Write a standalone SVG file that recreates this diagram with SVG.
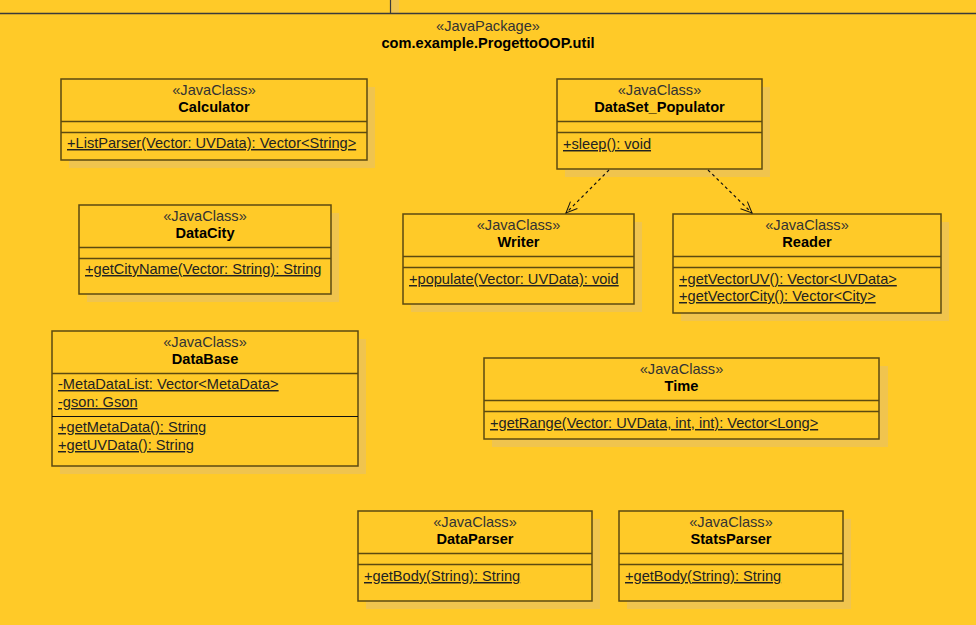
<svg xmlns="http://www.w3.org/2000/svg" width="976" height="625" viewBox="0 0 976 625">
<style>
text{font-family:"Liberation Sans",Arial,sans-serif;font-size:14.6px;fill:#1a1a1a}
.st{text-anchor:middle;fill:#333}
.nm{text-anchor:middle;font-weight:bold;fill:#000}
.m{text-decoration:underline;fill:#222}
.box{fill:#FFCA28;stroke:#5c4a10;stroke-width:1.5}
.sh{fill:#F0C44E}
.sep{stroke:#5c4a10;stroke-width:1.5}
.sep2{stroke:#111;stroke-width:1.2}
.dep{fill:none;stroke:#111;stroke-width:1.2;stroke-dasharray:3 3}
</style>
<defs>
<marker id="open" viewBox="0 0 20 20" refX="18" refY="10" markerWidth="14" markerHeight="14" markerUnits="userSpaceOnUse" orient="auto">
<path d="M2,3 L18,10 L2,17" fill="none" stroke="#111" stroke-width="1.4"/>
</marker>
</defs>
<rect width="976" height="625" fill="#FFCA28"/>
<g id="frame">
<rect x="391" y="0" width="8" height="13" class="sh"/>
<line x1="0" y1="13.5" x2="976" y2="13.5" stroke="#3a3a3a" stroke-width="1.5"/>
<line x1="390.5" y1="0" x2="390.5" y2="13" stroke="#3a3a3a" stroke-width="1.2"/>
<text x="488" y="31" class="st">«JavaPackage»</text>
<text x="488" y="48" class="nm">com.example.ProgettoOOP.util</text>
</g>

<g id="Calculator">
<rect x="69" y="87" width="306" height="81" class="sh"/>
<rect x="61" y="79" width="306" height="81" class="box"/>
<line x1="61" y1="121.5" x2="367" y2="121.5" class="sep"/>
<line x1="61" y1="132.5" x2="367" y2="132.5" class="sep"/>
<text x="214" y="95" class="st">«JavaClass»</text>
<text x="214" y="112" class="nm">Calculator</text>
<text x="67" y="148" class="m">+ListParser(Vector: UVData): Vector&lt;String&gt;</text>
</g>

<g id="DataCity">
<rect x="87" y="213" width="252" height="89" class="sh"/>
<rect x="79" y="205" width="252" height="89" class="box"/>
<line x1="79" y1="247.5" x2="331" y2="247.5" class="sep"/>
<line x1="79" y1="258.5" x2="331" y2="258.5" class="sep"/>
<text x="205" y="221" class="st">«JavaClass»</text>
<text x="205" y="238" class="nm">DataCity</text>
<text x="85" y="274" class="m">+getCityName(Vector: String): String</text>
</g>

<g id="DataBase">
<rect x="60" y="339" width="306" height="135" class="sh"/>
<rect x="52" y="331" width="306" height="135" class="box"/>
<line x1="52" y1="373.5" x2="358" y2="373.5" class="sep"/>
<line x1="52" y1="416.5" x2="358" y2="416.5" class="sep2"/>
<text x="205" y="347" class="st">«JavaClass»</text>
<text x="205" y="364" class="nm">DataBase</text>
<text x="58" y="389" class="m">-MetaDataList: Vector&lt;MetaData&gt;</text>
<text x="58" y="407" class="m">-gson: Gson</text>
<text x="58" y="432" class="m">+getMetaData(): String</text>
<text x="58" y="450" class="m">+getUVData(): String</text>
</g>

<g id="DataSet_Populator">
<rect x="565" y="87" width="205" height="90" class="sh"/>
<rect x="557" y="79" width="205" height="90" class="box"/>
<line x1="557" y1="121.5" x2="762" y2="121.5" class="sep"/>
<line x1="557" y1="132.5" x2="762" y2="132.5" class="sep"/>
<text x="659.5" y="95" class="st">«JavaClass»</text>
<text x="659.5" y="112" class="nm">DataSet_Populator</text>
<text x="563" y="149" class="m">+sleep(): void</text>
</g>

<g id="Writer">
<rect x="411" y="222" width="231" height="90" class="sh"/>
<rect x="403" y="214" width="231" height="90" class="box"/>
<line x1="403" y1="256.5" x2="634" y2="256.5" class="sep"/>
<line x1="403" y1="267.5" x2="634" y2="267.5" class="sep"/>
<text x="518.5" y="230" class="st">«JavaClass»</text>
<text x="518.5" y="247" class="nm">Writer</text>
<text x="409" y="284" class="m">+populate(Vector: UVData): void</text>
</g>

<g id="Reader">
<rect x="681" y="222" width="268" height="99" class="sh"/>
<rect x="673" y="214" width="268" height="99" class="box"/>
<line x1="673" y1="256.5" x2="941" y2="256.5" class="sep"/>
<line x1="673" y1="267.5" x2="941" y2="267.5" class="sep"/>
<text x="807" y="230" class="st">«JavaClass»</text>
<text x="807" y="247" class="nm">Reader</text>
<text x="679" y="284" class="m">+getVectorUV(): Vector&lt;UVData&gt;</text>
<text x="679" y="301" class="m">+getVectorCity(): Vector&lt;City&gt;</text>
</g>

<g id="Time">
<rect x="492" y="366" width="396" height="81" class="sh"/>
<rect x="484" y="358" width="395" height="81" class="box"/>
<line x1="484" y1="400.5" x2="879" y2="400.5" class="sep"/>
<line x1="484" y1="411.5" x2="879" y2="411.5" class="sep"/>
<text x="681.5" y="374" class="st">«JavaClass»</text>
<text x="681.5" y="391" class="nm">Time</text>
<text x="490" y="428" class="m">+getRange(Vector: UVData, int, int): Vector&lt;Long&gt;</text>
</g>

<g id="DataParser">
<rect x="366" y="519" width="234" height="90" class="sh"/>
<rect x="358" y="511" width="234" height="90" class="box"/>
<line x1="358" y1="553.5" x2="592" y2="553.5" class="sep"/>
<line x1="358" y1="564.5" x2="592" y2="564.5" class="sep"/>
<text x="475" y="527" class="st">«JavaClass»</text>
<text x="475" y="544" class="nm">DataParser</text>
<text x="364" y="581" class="m">+getBody(String): String</text>
</g>

<g id="StatsParser">
<rect x="627" y="519" width="224" height="90" class="sh"/>
<rect x="619" y="511" width="224" height="90" class="box"/>
<line x1="619" y1="553.5" x2="843" y2="553.5" class="sep"/>
<line x1="619" y1="564.5" x2="843" y2="564.5" class="sep"/>
<text x="731" y="527" class="st">«JavaClass»</text>
<text x="731" y="544" class="nm">StatsParser</text>
<text x="625" y="581" class="m">+getBody(String): String</text>
</g>

<g id="connectors">
<line x1="609" y1="170" x2="566" y2="213" class="dep" marker-end="url(#open)"/>
<line x1="708" y1="170" x2="752" y2="213" class="dep" marker-end="url(#open)"/>
</g>
</svg>
